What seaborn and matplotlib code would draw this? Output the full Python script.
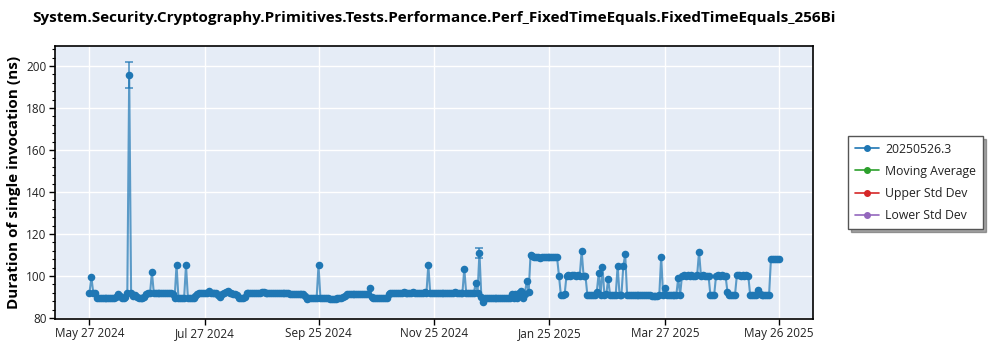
import numpy as np
import pandas as pd
import matplotlib
matplotlib.use("Agg")
import matplotlib.pyplot as plt
from matplotlib.lines import Line2D
import seaborn as sns

# ---------------- data ----------------
title = "System.Security.Cryptography.Primitives.Tests.Performance.Perf_FixedTimeEquals.FixedTimeEquals_256Bi"
series_name = "20250526.3"
legend_labels = ["20250526.3", "Moving Average", "Upper Std Dev", "Lower Std Dev"]
legend_colors = ["#1f77b4", "#2ca02c", "#d62728", "#9467bd"]
start_date = "2024-05-27"

durations = [
    92.0, 99.5, 92.0, 91.8, 89.6, 89.4, 89.5, 89.6, 89.4, 89.5,
    89.6, 89.5, 89.7, 89.5, 90.0, 91.5, 90.5, 89.6, 89.5, 89.8,
    92.0, 195.5, 91.8, 90.3, 91.0, 89.8, 89.5, 89.4, 89.6, 90.0,
    91.5, 91.8, 91.8, 101.8, 91.8, 91.9, 91.8, 91.8, 91.7, 91.8,
    91.8, 91.8, 91.9, 91.7, 91.5, 89.7, 105.2, 89.6, 89.5, 89.6,
    89.5, 105.2, 89.6, 89.5, 89.6, 89.5, 90.3, 91.6, 91.8, 91.8,
    91.9, 91.8, 92.0, 92.6, 92.0, 91.8, 91.8, 91.7, 91.0, 89.8,
    91.5, 91.8, 92.2, 92.8, 92.0, 91.8, 91.6, 91.5, 90.8, 89.6,
    89.3, 89.5, 90.2, 91.7, 91.8, 91.9, 91.8, 91.8, 91.7, 91.8,
    91.8, 92.2, 92.5, 91.9, 91.8, 91.8, 91.7, 91.8, 91.9, 91.8,
    91.8, 91.8, 92.0, 91.8, 91.7, 91.8, 91.6, 91.5, 91.5, 91.3,
    91.4, 91.3, 91.5, 91.2, 90.5, 88.8, 89.6, 89.5, 89.6, 89.5,
    89.4, 105.2, 89.5, 89.6, 89.4, 89.5, 89.3, 89.0, 88.9, 89.0,
    89.2, 89.4, 89.5, 89.6, 89.8, 90.5, 91.3, 91.4, 91.5, 91.3,
    91.4, 91.5, 91.3, 91.4, 91.3, 91.5, 91.4, 91.2, 94.3, 89.8,
    89.5, 89.6, 89.4, 89.5, 89.6, 89.5, 89.4, 89.6, 91.5, 91.8,
    91.8, 91.9, 91.8, 91.7, 91.8, 92.0, 92.5, 91.9, 91.8, 91.8,
    91.9, 92.5, 91.8, 91.7, 91.8, 91.9, 91.8, 92.5, 91.8, 105.2,
    91.8, 91.7, 91.8, 91.9, 91.8, 91.8, 91.7, 91.8, 91.8, 91.9,
    91.8, 91.8, 92.0, 92.5, 91.8, 91.8, 91.7, 91.8, 103.5, 91.8,
    91.8, 91.9, 91.8, 91.7, 96.5, 91.8, 111.0, 90.2, 87.8, 89.7,
    89.6, 89.7, 89.6, 89.7, 89.5, 89.6, 89.7, 89.6, 89.5, 89.7,
    89.6, 89.7, 89.6, 91.4, 89.7, 91.5, 89.6, 91.8, 92.9, 89.7,
    91.5, 97.6, 92.5, 110.0, 109.5, 109.2, 108.9, 108.8, 108.7, 108.8,
    108.9, 108.8, 108.9, 109.0, 108.9, 109.0, 108.9, 108.8, 100.2, 91.0,
    91.0, 91.2, 100.2, 100.3, 100.2, 100.4, 100.3, 100.2, 100.3, 100.2,
    111.9, 100.2, 100.1, 91.0, 91.0, 91.1, 91.0, 91.0, 92.5, 101.3,
    91.0, 104.4, 91.0, 91.2, 98.6, 91.0, 91.0, 91.1, 91.0, 104.9,
    91.0, 91.0, 104.6, 110.3, 91.0, 91.1, 91.0, 91.0, 91.1, 91.0,
    91.0, 91.1, 91.0, 91.0, 91.1, 91.0, 90.8, 90.6, 90.4, 90.3,
    90.5, 90.8, 109.2, 91.0, 94.1, 91.0, 91.0, 91.1, 91.0, 91.0,
    91.0, 98.9, 91.0, 100.2, 100.3, 100.2, 100.3, 100.2, 100.3, 100.2,
    100.2, 100.3, 111.6, 100.2, 100.3, 100.2, 100.2, 100.1, 91.0, 91.1,
    91.0, 100.2, 100.3, 100.2, 100.3, 100.2, 100.1, 92.5, 91.0, 91.1,
    91.0, 91.0, 100.5, 100.3, 100.2, 100.3, 100.2, 100.3, 100.2, 91.0,
    91.1, 91.0, 91.0, 93.3, 91.2, 91.0, 91.1, 91.0, 91.0, 91.1,
    108.3, 108.2, 108.1, 108.2, 108.1,
]

# error bars (only visible ones)
err_index = [21, 206]
err_low = [189.5, 108.4]
err_high = [202.0, 113.5]

xtick_labels = ["May 27 2024", "Jul 27 2024", "Sep 25 2024", "Nov 25 2024",
                "Jan 25 2025", "Mar 27 2025", "May 26 2025"]
ytick_values = [80, 100, 120, 140, 160, 180, 200]

# ---------------- build ----------------
dates = pd.date_range(start_date, periods=len(durations), freq="D")
df = pd.DataFrame({"date": dates, "duration": durations})

sns.set_theme(style="white")
plt.rcParams["font.family"] = ["Open Sans", "DejaVu Sans"]
plt.rcParams["text.color"] = "black"
plt.rcParams["axes.labelcolor"] = "black"
plt.rcParams["xtick.color"] = "black"
plt.rcParams["ytick.color"] = "black"

fig = plt.figure(figsize=(10, 3.5), dpi=100)
ax = fig.add_axes([0.055, 0.0886, 0.758, 0.78])
ax.set_facecolor("#e5ecf6")

blue = "#1f77b4"
sns.lineplot(data=df, x="date", y="duration", ax=ax, color=blue,
             linewidth=1.5, alpha=0.7, zorder=3)
sns.scatterplot(data=df, x="date", y="duration", ax=ax, color=blue,
                s=30, edgecolor=blue, linewidth=0, zorder=4)

edates = dates[err_index]
evals = np.array(durations)[err_index]
ax.errorbar(edates, evals,
            yerr=[evals - np.array(err_low), np.array(err_high) - evals],
            fmt="none", ecolor=blue, alpha=0.7, elinewidth=1.3,
            capsize=3, capthick=1.3, zorder=3)

ax.set_ylim(79.5, 209.5)
ax.set_yticks(ytick_values)
ax.yaxis.set_minor_locator(matplotlib.ticker.MultipleLocator(4))
xt = pd.to_datetime(xtick_labels, format="%b %d %Y")
ax.set_xticks(xt)
ax.set_xticklabels(xtick_labels)

ax.grid(True, which="major", color="white", linewidth=1.0)
ax.set_axisbelow(True)
for s in ax.spines.values():
    s.set_visible(True)
    s.set_color("black")
    s.set_linewidth(1.2)
ax.tick_params(axis="both", which="major", direction="out", length=4,
               width=1, color="black", labelcolor="#222222", labelsize=8.5,
               pad=2, bottom=True, left=True)
ax.tick_params(axis="y", which="minor", direction="out", length=2,
               width=0.8, color="black", left=True)

ax.set_xlabel("")
ax.set_ylabel("Duration of single invocation (ns)", fontsize=11,
              fontweight="bold", labelpad=4, color="black")
ax.set_title(title, fontsize=11, fontweight="bold", pad=17, color="black")

handles = [Line2D([0], [0], color=c, marker="o", markersize=4, linewidth=1.2)
           for c in legend_colors]
leg = fig.legend(handles, legend_labels, loc="upper left",
                 bbox_to_anchor=(0.848, 0.612), borderaxespad=0,
                 frameon=True, fancybox=False,
                 shadow=True, fontsize=8.8, edgecolor="#555555",
                 handlelength=2.0, handletextpad=0.5, borderpad=0.55,
                 labelspacing=0.75)
leg.get_frame().set_linewidth(1.0)
for t in leg.get_texts():
    t.set_color("#222222")

fig.savefig("out.png", dpi=100)
